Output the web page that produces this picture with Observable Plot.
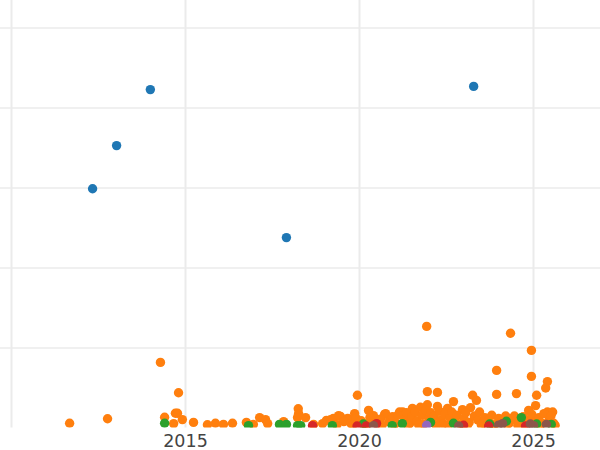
<!DOCTYPE html>
<html>
<head>
<meta charset="utf-8">
<script src="https://cdn.jsdelivr.net/npm/d3@7"></script>
<script src="https://cdn.jsdelivr.net/npm/@observablehq/plot@0.6"></script>
<style>
  html, body { margin: 0; padding: 0; background: #fff; }
  #chart svg { display: block; }
</style>
</head>
<body>
<div id="chart"></div>
<script>
// Tick values
const xTicks = [2015, 2020, 2025];
const xGrid = [2010, 2015, 2020, 2025];
const yGrid = [1, 2, 3, 4, 5];

// Series (year, value)
const seriesNames = ["A", "B", "C", "D", "E", "F"];
const seriesColors = ["#1f77b4", "#ff7f0e", "#2ca02c", "#d62728", "#9467bd", "#8c564b"];

const seriesA = [
  [2012.33, 2.99], [2013.02, 3.53], [2013.99, 4.23], [2017.90, 2.38], [2023.28, 4.27]
];

const seriesB = [
  [2011.67, 0.06], [2012.76, 0.115], [2014.28, 0.82], [2014.80, 0.44], [2014.40, 0.135],
  [2014.71, 0.185], [2014.77, 0.185], [2014.91, 0.105], [2014.66, 0.055], [2015.23, 0.07],
  [2015.63, 0.04], [2015.86, 0.06], [2016.09, 0.045], [2016.35, 0.06], [2016.75, 0.07],
  [2016.95, 0.045], [2017.13, 0.13], [2017.30, 0.105], [2017.36, 0.055], [2017.82, 0.08],
  [2018.24, 0.24], [2018.25, 0.18], [2018.22, 0.13], [2018.45, 0.13], [2018.68, 0.045],
  [2018.94, 0.055], [2019.05, 0.095], [2019.17, 0.105], [2019.25, 0.12], [2019.40, 0.155],
  [2019.45, 0.145], [2019.66, 0.12], [2019.68, 0.105], [2019.86, 0.18], [2019.94, 0.41],
  [2020.26, 0.22], [2020.40, 0.155], [2020.72, 0.17], [2020.75, 0.18], [2021.15, 0.20],
  [2021.24, 0.20], [2021.52, 0.245], [2021.75, 0.26], [2021.93, 1.27], [2021.95, 0.455],
  [2021.95, 0.29], [2022.24, 0.445], [2022.24, 0.27], [2022.53, 0.245], [2022.70, 0.33],
  [2022.96, 0.23], [2023.19, 0.255], [2023.25, 0.41], [2023.36, 0.345], [2023.94, 0.72],
  [2023.94, 0.42], [2024.34, 1.185], [2024.51, 0.43], [2024.94, 0.97], [2024.94, 0.645],
  [2025.09, 0.41], [2025.06, 0.28], [2025.40, 0.58], [2025.35, 0.50], [2024.86, 0.22],
  [2025.40, 0.20], [2025.55, 0.20],
  [2019.55, 0.08], [2019.75, 0.06], [2019.90, 0.12], [2020.05, 0.09], [2020.15, 0.05],
  [2020.30, 0.13], [2020.50, 0.07], [2020.60, 0.11], [2020.85, 0.08], [2020.95, 0.14],
  [2021.05, 0.06], [2021.10, 0.16], [2021.30, 0.10], [2021.35, 0.19], [2021.45, 0.06],
  [2021.50, 0.14], [2021.60, 0.20], [2021.65, 0.09], [2021.80, 0.16], [2021.85, 0.05],
  [2021.90, 0.22], [2022.00, 0.12], [2022.05, 0.19], [2022.10, 0.07], [2022.15, 0.15],
  [2022.30, 0.21], [2022.35, 0.10], [2022.40, 0.05], [2022.45, 0.17], [2022.60, 0.13],
  [2022.65, 0.20], [2022.75, 0.08], [2022.80, 0.16], [2022.90, 0.05], [2023.00, 0.12],
  [2023.05, 0.19], [2023.15, 0.07], [2023.30, 0.15], [2023.40, 0.10], [2023.45, 0.20],
  [2023.55, 0.06], [2023.60, 0.13], [2023.70, 0.09], [2023.80, 0.16], [2023.90, 0.05],
  [2024.00, 0.12], [2024.10, 0.08], [2024.20, 0.15], [2024.30, 0.06], [2024.40, 0.11],
  [2024.45, 0.15], [2024.60, 0.09], [2024.70, 0.14], [2024.75, 0.05], [2024.85, 0.10],
  [2024.95, 0.17], [2025.05, 0.08], [2025.15, 0.13], [2025.25, 0.06], [2025.30, 0.18],
  [2025.45, 0.10], [2025.50, 0.15], [2025.58, 0.06],
  [2019.35, 0.04], [2019.80, 0.035], [2020.20, 0.04], [2020.65, 0.035], [2021.00, 0.04],
  [2021.40, 0.035], [2021.70, 0.04], [2022.20, 0.035], [2022.55, 0.04], [2023.10, 0.035],
  [2023.50, 0.04], [2023.85, 0.035], [2024.25, 0.04], [2024.55, 0.035], [2025.20, 0.04],
  [2025.62, 0.035]
];

const seriesC = [
  [2014.40, 0.06], [2016.81, 0.03], [2017.70, 0.045], [2017.90, 0.045], [2018.22, 0.03],
  [2018.31, 0.03], [2019.22, 0.03], [2020.11, 0.05], [2020.94, 0.03], [2021.23, 0.055],
  [2022.04, 0.07], [2022.70, 0.06], [2023.74, 0.05], [2024.22, 0.085], [2024.65, 0.13],
  [2025.09, 0.05], [2025.51, 0.045]
];

const seriesD = [
  [2018.65, 0.03], [2019.93, 0.025], [2020.19, 0.025], [2020.49, 0.055], [2022.99, 0.035],
  [2023.71, 0.025], [2024.77, 0.025]
];

const seriesE = [
  [2021.93, 0.035]
];

const seriesF = [
  [2020.40, 0.03], [2022.85, 0.025], [2023.99, 0.035], [2024.11, 0.055], [2024.91, 0.05],
  [2025.00, 0.03], [2025.37, 0.045]
];

const allSeries = [seriesA, seriesB, seriesC, seriesD, seriesE, seriesF];
const rows = allSeries.flatMap((s, i) => s.map(([x, y]) => ({x, y, series: seriesNames[i]})));

const chart = Plot.plot({
  width: 600,
  height: 450,
  marginLeft: 0,
  marginRight: 0,
  marginTop: 0,
  marginBottom: 22.5,
  style: {fontFamily: "DejaVu Sans", fontSize: "17.5px", color: "#444", background: "#fff"},
  x: {domain: [2009.684, 2026.925], label: null},
  y: {domain: [0, 5.34375], label: null},
  color: {domain: seriesNames, range: seriesColors},
  marks: [
    Plot.ruleY(yGrid, {stroke: "#ebebeb", strokeWidth: 1.5, strokeOpacity: 1}),
    Plot.ruleX(xGrid, {stroke: "#ebebeb", strokeWidth: 2, strokeOpacity: 1}),
    Plot.dot(rows, {x: "x", y: "y", fill: "series", r: 4.7, clip: "frame"}),
    Plot.axisX({ticks: xTicks, tickSize: 0, tickPadding: 7, tickFormat: "d", fill: "#444", fontSize: 17.5, label: null}),
    Plot.axisY({ticks: [], label: null, tickSize: 0})
  ]
});
document.getElementById("chart").appendChild(chart);
</script>
</body>
</html>
